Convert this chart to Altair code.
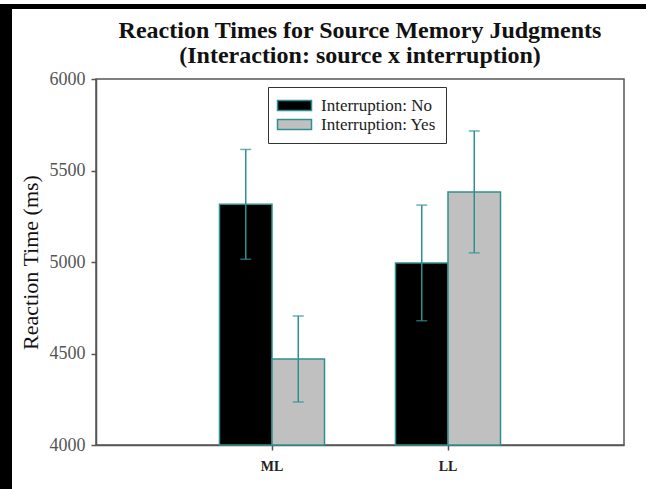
import altair as alt
import pandas as pd

# Mean reaction times (ms) and error-bar half widths per condition
sources = ["ML", "ML", "LL", "LL"]
interruption = ["Interruption: No", "Interruption: Yes", "Interruption: No", "Interruption: Yes"]
mean_rt = [5315, 4470, 4995, 5383]
err_rt = [300, 235, 316, 333]

df = pd.DataFrame({"source": sources, "interruption": interruption,
                   "rt": mean_rt, "err": err_rt})

TEAL = "#2f9090"
SERIF = "Liberation Serif"
W, H = 528, 366
Y_MIN, Y_MAX = 4000, 6000

x_enc = alt.X("source:N", sort=["ML", "LL"], title=None,
              scale=alt.Scale(paddingInner=0, paddingOuter=0.5),
              axis=alt.Axis(labelFont=SERIF, labelFontSize=14, labelFontWeight="bold",
                            labelColor="#222", labelAngle=0, labelPadding=9,
                            tickSize=5, tickColor="#555", domainColor="#555",
                            domainWidth=1.5, tickWidth=1.5, grid=False))
xo_enc = alt.XOffset("interruption:N", sort=["Interruption: No", "Interruption: Yes"],
                     scale=alt.Scale(paddingInner=0, paddingOuter=0.676))

base = alt.Chart(df)

bars = base.mark_bar(stroke=TEAL, strokeWidth=1.5).encode(
    x=x_enc,
    xOffset=xo_enc,
    y=alt.Y("rt:Q", scale=alt.Scale(domain=[Y_MIN, Y_MAX], nice=False, zero=False),
            title="Reaction Time (ms)",
            axis=alt.Axis(values=[4000, 4500, 5000, 5500, 6000], format="d", grid=False,
                          labelFont=SERIF, labelFontSize=18, labelColor="#555",
                          labelPadding=6, tickSize=5, tickColor="#555", tickWidth=1.5,
                          domainColor="#555", domainWidth=1.5,
                          titleFont=SERIF, titleFontSize=22, titleFontWeight="normal",
                          titleColor="#111", titleX=-66, titleY=H / 2,
                          titleAngle=-90, titleAlign="center", titleBaseline="middle")),
    y2=alt.datum(Y_MIN),
    color=alt.Color("interruption:N",
                    scale=alt.Scale(domain=["Interruption: No", "Interruption: Yes"],
                                    range=["#000000", "#c0c0c0"]),
                    legend=alt.Legend(title=None, orient="none", legendX=172, legendY=8,
                                      strokeColor="#333", fillColor="white", padding=10,
                                      labelFont=SERIF, labelFontSize=17, labelColor="#222",
                                      symbolType="M-3.4,-1H3.4V1H-3.4Z", symbolSize=100,
                                      symbolStrokeColor=TEAL, symbolStrokeWidth=1.5,
                                      symbolOffset=8, labelOffset=18, rowPadding=1)),
)

err = base.transform_calculate(lo="datum.rt - datum.err", hi="datum.rt + datum.err")

rules = err.mark_rule(color=TEAL, strokeWidth=1.5).encode(
    x=alt.X("source:N", sort=["ML", "LL"]),
    xOffset=xo_enc,
    y="lo:Q", y2="hi:Q")
caps_lo = err.mark_tick(color=TEAL, thickness=1.5, size=11, orient="horizontal").encode(
    x=alt.X("source:N", sort=["ML", "LL"]), xOffset=xo_enc, y="lo:Q")
caps_hi = err.mark_tick(color=TEAL, thickness=1.5, size=11, orient="horizontal").encode(
    x=alt.X("source:N", sort=["ML", "LL"]), xOffset=xo_enc, y="hi:Q")

# Black slide frame along the left and top edges
FRAME_TOP = -75
frame_df = pd.DataFrame({"k": [0]})
frame_left = alt.Chart(frame_df).mark_rect(color="black").encode(
    x=alt.value(-96), x2=alt.value(-84), y=alt.value(FRAME_TOP), y2=alt.value(H + 44))
frame_top = alt.Chart(frame_df).mark_rect(color="black").encode(
    x=alt.value(-96), x2=alt.value(W + 22), y=alt.value(FRAME_TOP), y2=alt.value(FRAME_TOP + 5))

# The frame extends the group bounds upward, so shift the title back down by that amount
chart = alt.layer(bars, rules, caps_lo, caps_hi, frame_left, frame_top).properties(
    width=W, height=H,
    background="white",
    title=alt.TitleParams(
        ["Reaction Times for Source Memory Judgments", "(Interaction: source x interruption)"],
        font=SERIF, fontSize=24, fontWeight="bold", color="#111",
        anchor="middle", frame="group", lineHeight=25, offset=11, dy=-FRAME_TOP),
    autosize=alt.AutoSizeParams(type="none"),
    padding={"left": 96, "top": 79, "right": 22, "bottom": 44},
).configure_view(stroke="#555", strokeWidth=1.5)

chart.save("out.html", embed_options={"renderer": "svg", "actions": False})
